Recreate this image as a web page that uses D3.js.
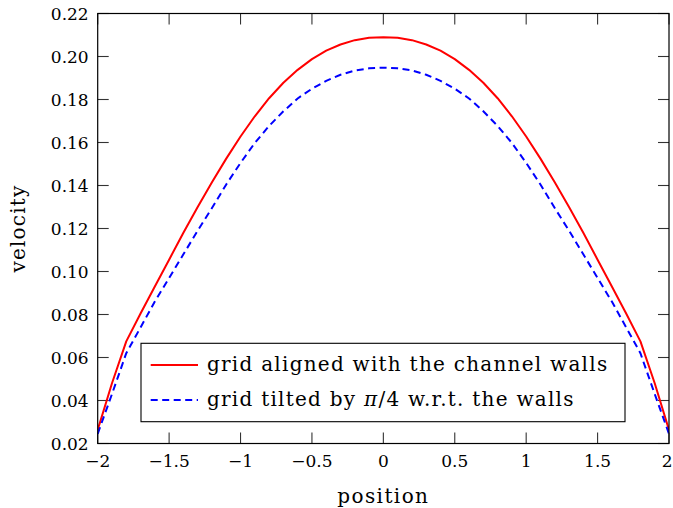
<!DOCTYPE html>
<html><head><meta charset="utf-8">
<script src="https://cdn.jsdelivr.net/npm/d3@7"></script>
<style>
html,body{margin:0;padding:0;background:#fff;}
svg{display:block;}
text{font-family:"DejaVu Serif","Liberation Serif",serif;fill:#000;}
</style></head>
<body>
<svg id="chart" width="673" height="508"></svg>
<script>
// ---- data ----
const redX = [-2,-1.9,-1.8,-1.7,-1.6,-1.5,-1.4,-1.3,-1.2,-1.1,-1.0,-0.9,-0.8,-0.7,-0.6,-0.5,-0.4,-0.3,-0.2,-0.1,0,
              0.1,0.2,0.3,0.4,0.5,0.6,0.7,0.8,0.9,1.0,1.1,1.2,1.3,1.4,1.5,1.6,1.7,1.8,1.9,2];
const redY = [0.0263,0.048,0.0675,0.0805,0.093,0.1055,0.118,0.130,0.1415,0.1525,0.1628,0.1722,0.1806,0.1878,0.1938,0.1988,0.2027,0.2056,0.2076,0.2087,0.209,
              0.2087,0.2076,0.2056,0.2027,0.1988,0.1938,0.1878,0.1806,0.1722,0.1628,0.1525,0.1415,0.130,0.118,0.1055,0.093,0.0805,0.0675,0.048,0.0263];
const blueX = [-2,-1.9,-1.8,-1.7,-1.6,-1.5,-1.4,-1.3,-1.2,-1.1,-1.0,-0.9,-0.8,-0.7,-0.6,-0.5,-0.4,-0.3,-0.2,-0.1,0,
               0.1,0.2,0.3,0.4,0.5,0.6,0.7,0.8,0.9,1.0,1.1,1.2,1.3,1.4,1.5,1.6,1.7,1.8,1.9,2];
const blueY = [0.0245,0.043,0.062,0.074,0.086,0.097,0.108,0.119,0.1295,0.1405,0.1505,0.1598,0.1677,0.1745,0.1805,0.185,0.1887,0.1915,0.1935,0.1945,0.1948,
               0.1945,0.1935,0.1915,0.1887,0.185,0.1805,0.1745,0.1677,0.1598,0.1505,0.1405,0.1295,0.119,0.108,0.097,0.086,0.074,0.062,0.043,0.0245];
const xTicks = [-2,-1.5,-1,-0.5,0,0.5,1,1.5,2];
const xTickLabels = ["\u22122","\u22121.5","\u22121","\u22120.5","0","0.5","1","1.5","2"];
const yTicks = [0.02,0.04,0.06,0.08,0.10,0.12,0.14,0.16,0.18,0.20,0.22];
const yTickLabels = ["0.02","0.04","0.06","0.08","0.10","0.12","0.14","0.16","0.18","0.20","0.22"];
const seriesNames = ["grid aligned with the channel walls","grid tilted by \u03C0/4 w.r.t. the walls"];
const xLabel = "position", yLabel = "velocity";

// ---- layout ----
const W = 673;
const L = 97.7, R = 669, T = 13.5, B = 443.5;
const svg = d3.select("#chart");
const x = d3.scaleLinear().domain([-2,2]).range([L,R]);
const y = d3.scaleLinear().domain([0.02,0.22]).range([B,T]);
const tickLen = 11, fs = 17;

svg.append("clipPath").attr("id","clip").append("rect")
  .attr("x",L).attr("y",T).attr("width",R-L).attr("height",B-T);

// ticks (inward, mirrored)
const tg = svg.append("g").attr("stroke","#333").attr("stroke-width",1.1);
xTicks.forEach(v=>{
  tg.append("line").attr("x1",x(v)).attr("x2",x(v)).attr("y1",B).attr("y2",B-tickLen);
  tg.append("line").attr("x1",x(v)).attr("x2",x(v)).attr("y1",T).attr("y2",T+tickLen);
});
yTicks.forEach(v=>{
  tg.append("line").attr("y1",y(v)).attr("y2",y(v)).attr("x1",L).attr("x2",L+tickLen);
  tg.append("line").attr("y1",y(v)).attr("y2",y(v)).attr("x1",R).attr("x2",R-tickLen);
});

// lines
const lineGen = (xs,ys)=> d3.line().x((d,i)=>x(xs[i])).y((d,i)=>y(ys[i]))(xs);
const pg = svg.append("g").attr("clip-path","url(#clip)");
pg.append("path").attr("d",lineGen(redX,redY)).attr("fill","none").attr("stroke","#ff0000").attr("stroke-width",2).attr("stroke-linejoin","round");
pg.append("path").attr("d",lineGen(blueX,blueY)).attr("fill","none").attr("stroke","#0000ff").attr("stroke-width",2).attr("stroke-dasharray","7,4.5");

// frame
svg.append("rect").attr("x",L).attr("y",T).attr("width",R-L).attr("height",B-T)
  .attr("fill","none").attr("stroke","#000").attr("stroke-width",1.2);

// tick labels
xTicks.forEach((v,i)=>{
  const t = svg.append("text").attr("x",x(v)).attr("y",B+23).attr("text-anchor","middle")
    .attr("font-size",fs).text(xTickLabels[i]);
  const bb = t.node().getBBox();
  if (bb.x + bb.width > W - 0.5) t.attr("x", x(v) - (bb.x + bb.width - (W - 0.5)));
});
yTicks.forEach((v,i)=>{
  svg.append("text").attr("x",L-9).attr("y",y(v)+6).attr("text-anchor","end")
    .attr("font-size",fs).text(yTickLabels[i]);
});

// axis labels
svg.append("text").attr("x",(L+R)/2).attr("y",503).attr("text-anchor","middle").attr("font-size",20).attr("letter-spacing",1.4).text(xLabel);
svg.append("text").attr("transform",`translate(25,${(T+B)/2}) rotate(-90)`).attr("text-anchor","middle").attr("font-size",20).attr("letter-spacing",1.2).text(yLabel);

// legend
const lg = svg.append("g");
lg.append("rect").attr("x",141).attr("y",343.3).attr("width",484).attr("height",78.4)
  .attr("fill","#fff").attr("stroke","#000").attr("stroke-width",1.1);
const rows = [365,400];
lg.append("line").attr("x1",150.7).attr("x2",198).attr("y1",rows[0]).attr("y2",rows[0]).attr("stroke","#ff0000").attr("stroke-width",2);
lg.append("line").attr("x1",150.7).attr("x2",198).attr("y1",rows[1]).attr("y2",rows[1]).attr("stroke","#0000ff").attr("stroke-width",2).attr("stroke-dasharray","7,4.5");
lg.append("text").attr("x",207).attr("y",rows[0]+6).attr("font-size",20).attr("letter-spacing",1.25).text(seriesNames[0]);
const t2 = lg.append("text").attr("x",207).attr("y",rows[1]+6).attr("font-size",20).attr("letter-spacing",1.25);
const parts = seriesNames[1].split("\u03C0");
t2.append("tspan").text(parts[0]);
t2.append("tspan").attr("font-style","italic").text("\u03C0");
t2.append("tspan").text(parts[1]);
</script>
</body></html>
